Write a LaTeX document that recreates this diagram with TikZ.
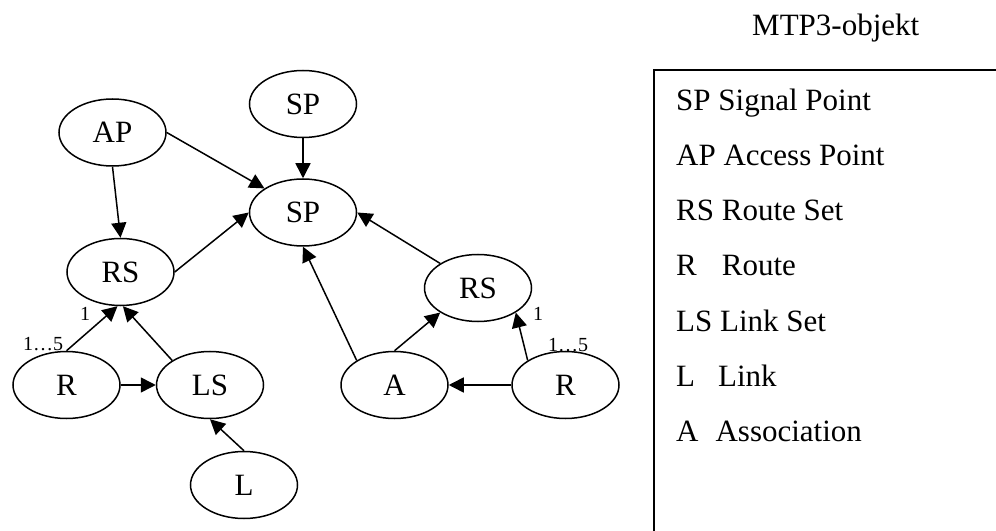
\documentclass[tikz,border=0pt]{standalone}
\usepackage{fontspec}
\setmainfont{Liberation Serif}
\usetikzlibrary{arrows.meta,shapes.geometric}
\begin{document}
\begin{tikzpicture}[x=1bp,y=-1bp,
  obj/.style={ellipse,draw,line width=1.5bp,minimum width=107bp,minimum height=67bp,
    inner sep=0pt,font=\fontsize{31bp}{37bp}\selectfont},
  rel/.style={line width=1.5bp,-{Triangle[length=15bp,width=15bp]}},
  mult/.style={anchor=base west,inner sep=0pt,font=\fontsize{20bp}{24bp}\selectfont},
  legend/.style={anchor=base west,inner sep=0pt,font=\fontsize{31bp}{37bp}\selectfont}]
\useasboundingbox (0,0) rectangle (996,531);

% objects
\node[obj] (sptop) at (303,104) {SP};
\node[obj] (ap)    at (112.5,132.5) {AP};
\node[obj] (sp)    at (303,212.5) {SP};
\node[obj] (rsl)   at (120.5,272) {RS};
\node[obj] (rsr)   at (478,288) {RS};
\node[obj] (rl)    at (66.5,385) {R};
\node[obj] (ls)    at (210,385) {LS};
\node[obj] (a)     at (394.5,385) {A};
\node[obj] (rr)    at (565.5,385) {R};
\node[obj] (l)     at (244,485) {L};

% relations
\draw[rel] (sptop.south) -- (sp.north);
\draw[rel] (ap.east) -- (sp.148);
\draw[rel] (ap.south) -- (rsl.north);
\draw[rel] (rsl.east) -- (sp.west);
\draw[rel] (rl.north) -- (rsl.265);
\draw[rel] (ls.147) -- (rsl.274);
\draw[rel] (rl.east) -- (ls.west);
\draw[rel] (l.north) -- (ls.south);
\draw[rel] (a.147) -- (sp.south);
\draw[rel] (a.north) -- (rsr.213);
\draw[rel] (rsr.147) -- (sp.east);
\draw[rel] (rr.147) -- (rsr.327);
\draw[rel] (rr.west) -- (a.east);

% multiplicities
\node[mult] (m1) at (23,351) {1…5};
\node[mult] (m2) at (80,321) {1};
\node[mult] (m3) at (533,321) {1};
\node[mult] (m4) at (548,352) {1…5};

% legend
\node[legend] (title) at (752,36) {MTP3-objekt};
\draw[line width=1.5bp] (996,70) -- (654,70) -- (654,531);
\node[legend] (k1) at (676,111) {SP Signal Point};
\node[legend] (k2) at (676,166) {AP Access Point};
\node[legend] (k3) at (676,221) {RS Route Set};
\node[legend] (k4) at (676,276) {R\hspace{25bp}Route};
\node[legend] (k5) at (676,332) {LS Link Set};
\node[legend] (k6) at (676,387) {L\hspace{23bp}Link};
\node[legend] (k7) at (676,441) {A\hspace{17bp}Association};
\end{tikzpicture}
\end{document}
